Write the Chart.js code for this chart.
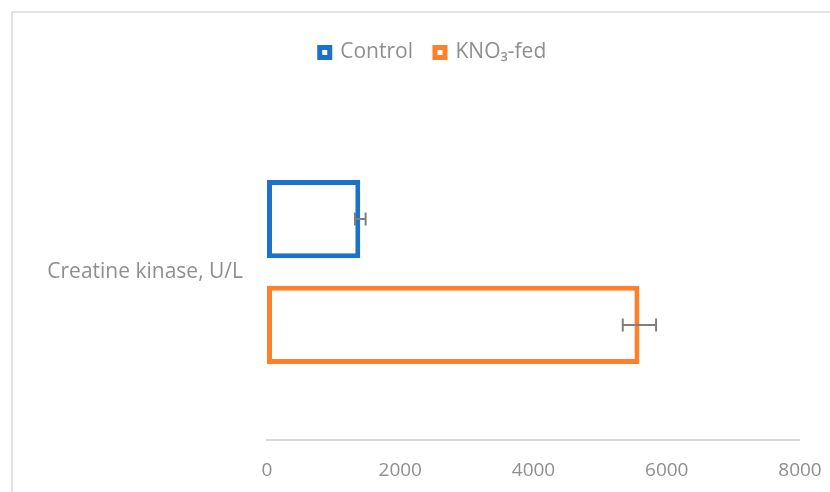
<!DOCTYPE html>
<html>
<head>
<meta charset="utf-8">
<script src="https://cdn.jsdelivr.net/npm/chart.js@4"></script>
<style>
  html, body { margin: 0; padding: 0; background: #ffffff; }
  #wrap { width: 830px; height: 492px; position: relative; }
</style>
</head>
<body>
<div id="wrap"><canvas id="c" width="830" height="492"></canvas></div>
<script>
// Serum creatine kinase activity, mean ± error
const categories = ['Creatine kinase, U/L'];
const seriesNames = ['Control', 'KNO₃-fed'];
const controlValues = [1400];
const controlErrors = [80];
const nitrateValues = [5590];
const nitrateErrors = [250];
const xTicks = [0, 2000, 4000, 6000, 8000];

const TEXT = '#8f8f8f';
const FONT = "'Open Sans', 'DejaVu Sans', sans-serif";

// Light frame around the chart
const framePlugin = {
  id: 'frame',
  beforeDraw(chart) {
    const ctx = chart.ctx;
    ctx.save();
    ctx.strokeStyle = '#d9d9d9';
    ctx.lineWidth = 1.5;
    ctx.beginPath();
    ctx.moveTo(12, chart.height);
    ctx.lineTo(12, 12);
    ctx.lineTo(chart.width, 12);
    ctx.stroke();
    ctx.restore();
  }
};

// Legend: extra room beneath it, and centred over the plot area
const legendPlacePlugin = {
  id: 'legendPlace',
  beforeLayout(chart) {
    const lg = chart.legend;
    if (lg && !lg._gapPatched) {
      const fit = lg.fit.bind(lg);
      lg.fit = function () {
        fit();
        this.height += 31;
        this.bottom = this.top + this.height;
      };
      lg._gapPatched = true;
    }
  },
  afterLayout(chart) {
    if (chart.legend) chart.legend.left += 34;
  }
};

// Value axis line, spanning the first to the last tick
const axisLinePlugin = {
  id: 'axisLine',
  beforeDatasetsDraw(chart) {
    const ctx = chart.ctx;
    const xs = chart.scales.x;
    const x1 = xs.getPixelForValue(xTicks[0]);
    const x2 = xs.getPixelForValue(xTicks[xTicks.length - 1]);
    const y = chart.chartArea.bottom;
    ctx.save();
    ctx.strokeStyle = '#d9d9d9';
    ctx.lineWidth = 2;
    ctx.beginPath();
    ctx.moveTo(x1 - 1, y);
    ctx.lineTo(x2, y);
    ctx.stroke();
    ctx.restore();
  }
};

// Horizontal error bars with end caps
const errorBarPlugin = {
  id: 'errorBars',
  afterDatasetsDraw(chart) {
    const ctx = chart.ctx;
    const xScale = chart.scales.x;
    ctx.save();
    ctx.strokeStyle = '#7f7f7f';
    ctx.lineWidth = 2;
    chart.data.datasets.forEach((ds, di) => {
      const meta = chart.getDatasetMeta(di);
      meta.data.forEach((bar, i) => {
        const v = ds.data[i];
        const e = ds.errors[i];
        const x1 = xScale.getPixelForValue(v - e);
        const x2 = xScale.getPixelForValue(v + e);
        const y = bar.y;
        const cap = 6.5;
        ctx.beginPath();
        ctx.moveTo(x1, y); ctx.lineTo(x2, y);
        ctx.moveTo(x1, y - cap); ctx.lineTo(x1, y + cap);
        ctx.moveTo(x2, y - cap); ctx.lineTo(x2, y + cap);
        ctx.stroke();
      });
    });
    ctx.restore();
  }
};

new Chart(document.getElementById('c'), {
  type: 'bar',
  data: {
    labels: categories,
    datasets: [
      {
        label: seriesNames[0],
        data: controlValues,
        errors: controlErrors,
        backgroundColor: '#ffffff',
        borderColor: '#1b72c8',
        borderWidth: 5,
        borderSkipped: false
      },
      {
        label: seriesNames[1],
        data: nitrateValues,
        errors: nitrateErrors,
        backgroundColor: '#ffffff',
        borderColor: '#ff7f2a',
        borderWidth: 5,
        borderSkipped: false
      }
    ]
  },
  options: {
    responsive: false,
    animation: false,
    indexAxis: 'y',
    categoryPercentage: 0.63,
    barPercentage: 0.74,
    layout: { padding: { left: 32, right: 30, top: 20, bottom: 0 } },
    plugins: {
      tooltip: { enabled: false },
      legend: {
        position: 'top',
        labels: {
          color: TEXT,
          font: { family: FONT, size: 21 },
          boxWidth: 10,
          boxHeight: 10,
          padding: 22,
          generateLabels(chart) {
            const items = Chart.defaults.plugins.legend.labels.generateLabels(chart);
            items.forEach(it => { it.lineWidth = 5; it.fillStyle = '#ffffff'; });
            return items;
          }
        }
      }
    },
    scales: {
      x: {
        min: 0,
        max: 8000,
        afterBuildTicks(scale) { scale.ticks = xTicks.map(v => ({ value: v })); },
        grid: { display: false, drawTicks: false },
        border: { display: false },
        ticks: {
          color: TEXT,
          font: { family: FONT, size: 19 },
          padding: 19,
          maxRotation: 0,
          callback: (v) => String(v)
        },
        afterFit(scale) {
          scale.height = 52;
          scale.paddingLeft = 0;
          scale.paddingRight = 0;
        }
      },
      y: {
        grid: { display: false, drawTicks: false },
        border: { display: false },
        ticks: { color: TEXT, font: { family: FONT, size: 21 }, padding: 24 },
        afterFit(scale) { scale.width = 235; }
      }
    }
  },
  plugins: [framePlugin, legendPlacePlugin, axisLinePlugin, errorBarPlugin]
});
</script>
</body>
</html>
